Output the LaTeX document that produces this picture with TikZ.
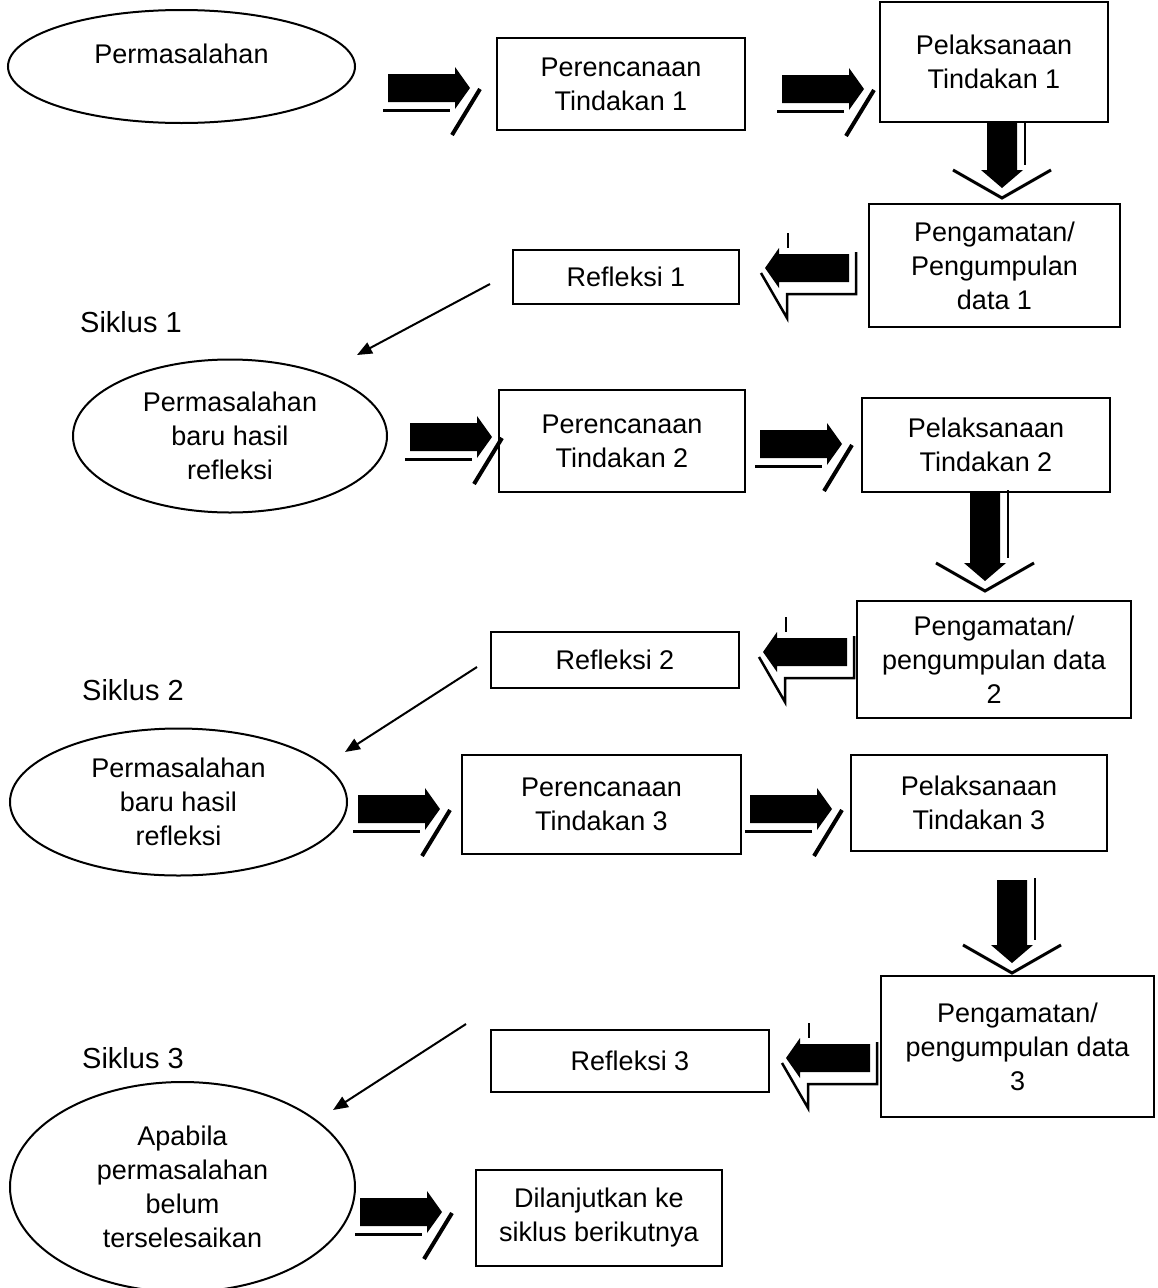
\documentclass[tikz,border=0pt]{standalone}
\usepackage{fontspec}
\setmainfont{Liberation Sans}
\usetikzlibrary{shapes.geometric,arrows.meta}
\newcommand\myrarrow[2]{%
  \begin{scope}[shift={(#1,#2)}]
    \fill (0,-14) -- (67,-14) -- (67,-21) -- (82,0) -- (67,21) -- (67,14) -- (0,14) -- cycle;
    \draw[line width=3] (-5,22) -- (62,22);
    \draw[line width=4] (92,1) -- (64,47);
  \end{scope}}
\newcommand\mydarrow[3]{%
  \begin{scope}[shift={(#1,#2)}]
    \fill (-15,0) -- (15,0) -- (15,#3) -- (21,#3) -- (0,#3+18) -- (-21,#3) -- (-15,#3) -- cycle;
    \draw[line width=3] (-49,#3) -- (0,#3+28) -- (49,#3);
    \draw[line width=2.5] (23,-2) -- (23,#3-5);
  \end{scope}}
\newcommand\mylarrow[2]{%
  \begin{scope}[shift={(#1,#2)}]
    \fill (0,0) -- (14,-20) -- (14,-14) -- (84,-14) -- (84,14) -- (14,14) -- (14,20) -- cycle;
    \draw[line width=2.5] (91,-16) -- (91,26) -- (22,26) -- (22,50) -- (-4,5);
    \draw[line width=2.5] (23,-35) -- (23,-20);
  \end{scope}}
\tikzset{
  txt/.style={font=\fontsize{27}{34}\selectfont, align=center, inner sep=0},
  boxn/.style={txt, draw, line width=1.8, minimum width=#1},
  ell/.style={draw, ellipse, line width=2, inner sep=0},
  thin/.style={line width=2, -{Triangle[length=15pt,width=12pt]}},
}
\begin{document}
\begin{tikzpicture}[x=1pt,y=-1pt]
\useasboundingbox (0,0) rectangle (1157,1288);
% ellipses
\node[ell, minimum width=347, minimum height=113] (e1) at (181.5,66.5) {};
\node[txt] (e1t) at (181.5,54) {Permasalahan};
\node[ell, minimum width=314, minimum height=153, txt, draw, line width=2] (e2) at (230,436) {Permasalahan\\baru hasil\\refleksi};
\node[ell, minimum width=337, minimum height=147, txt, draw, line width=2] (e3) at (178.5,802) {Permasalahan\\baru hasil\\refleksi};
\node[ell, minimum width=345, minimum height=210, txt, draw, line width=2] (e4) at (182.5,1187) {Apabila\\permasalahan\\belum\\terselesaikan};
% boxes
\node[boxn=248, minimum height=92] (b2) at (621,84) {Perencanaan\\Tindakan 1};
\node[boxn=228, minimum height=120] (b3) at (994,62) {Pelaksanaan\\Tindakan 1};
\node[boxn=251, minimum height=123] (b4) at (994.5,265.5) {Pengamatan/\\Pengumpulan\\data 1};
\node[boxn=226, minimum height=54] (b5) at (626,277) {Refleksi 1};
\node[boxn=246, minimum height=102] (b8) at (622,441) {Perencanaan\\Tindakan 2};
\node[boxn=248, minimum height=94] (b9) at (986,445) {Pelaksanaan\\Tindakan 2};
\node[boxn=274, minimum height=117] (b10) at (994,659.5) {Pengamatan/\\pengumpulan data\\2};
\node[boxn=248, minimum height=56] (b11) at (615,660) {Refleksi 2};
\node[boxn=279, minimum height=99] (b14) at (601.5,804.5) {Perencanaan\\Tindakan 3};
\node[boxn=256, minimum height=96] (b15) at (979,803) {Pelaksanaan\\Tindakan 3};
\node[boxn=273, minimum height=141] (b16) at (1017.5,1046.5) {Pengamatan/\\pengumpulan data\\3};
\node[boxn=278, minimum height=62] (b17) at (630,1061) {Refleksi 3};
\node[boxn=246, minimum height=96] (b20) at (599,1218) {Dilanjutkan ke\\siklus berikutnya};
% cycle labels
\node[txt, anchor=west, font=\fontsize{29}{34}\selectfont] (s1) at (80,322) {Siklus 1};
\node[txt, anchor=west, font=\fontsize{29}{34}\selectfont] (s2) at (82,690) {Siklus 2};
\node[txt, anchor=west, font=\fontsize{29}{34}\selectfont] (s3) at (82,1058) {Siklus 3};
% thin arrows
\coordinate (t1a) at (490,284); \coordinate (t1b) at (357,355);
\coordinate (t2a) at (477,667); \coordinate (t2b) at (345,752);
\coordinate (t3a) at (466,1024); \coordinate (t3b) at (333,1110);
\draw[thin] (t1a) -- (t1b);
\draw[thin] (t2a) -- (t2b);
\draw[thin] (t3a) -- (t3b);
% block arrows
\myrarrow{388}{88}
\myrarrow{782}{89}
\myrarrow{410}{437}
\myrarrow{760}{444}
\myrarrow{358}{809}
\myrarrow{750}{809}
\myrarrow{360}{1212}
\mydarrow{1002}{123}{47}
\mydarrow{985}{492}{71}
\mydarrow{1012}{880}{65}
\mylarrow{765}{268}
\mylarrow{763}{652}
\mylarrow{786}{1058}
\end{tikzpicture}
\end{document}
